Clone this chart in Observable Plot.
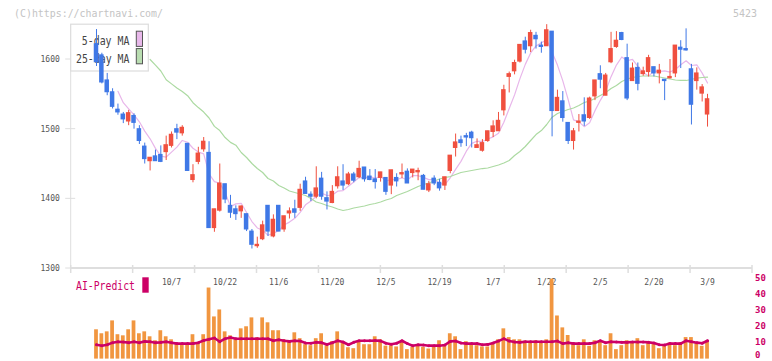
<!DOCTYPE html>
<html>
<head>
<meta charset="utf-8">
<script src="https://cdn.jsdelivr.net/npm/d3@7"></script>
<script src="https://cdn.jsdelivr.net/npm/@observablehq/plot@0.6"></script>
<style>
  html, body { margin: 0; padding: 0; background: #fff; }
  #wrap { position: relative; width: 772px; height: 361px; overflow: hidden; }
  #wrap > svg, #wrap > figure { position: absolute; left: 0; top: 0; margin: 0; }
</style>
</head>
<body>
<div id="wrap"></div>
<script>
// ---- data ----
const opens  = [1622,1606,1570,1553,1528,1521,1511,1519,1500,1475,1454,1461,1463,1467,1476,1500,1494,1479,1427,1453,
                1471,1466,1358,1383,1421,1390,1385,1382,1378,1353,1332,1342,1390,1346,1390,1356,1379,1385,1387,1425,
                1406,1403,1429,1401,1394,1418,1425,1421,1435,1431,1445,1432,1428,1430,1430,1419,1430,1435,1439,1437,
                1438,1433,1412,1429,1423,1419,1440,1473,1484,1490,1495,1473,1469,1483,1496,1497,1527,1575,1583,1597,
                1626,1619,1634,1620,1619,1640,1526,1540,1509,1483,1509,1520,1516,1547,1579,1548,1596,1618,1638,1602,
                1569,1588,1579,1582,1589,1580,1571,1573,1580,1617,1615,1586,1569,1551,1521];
const highs  = [1643,1609,1580,1558,1536,1524,1527,1522,1505,1480,1459,1470,1476,1490,1496,1507,1505,1479,1449,1474,
                1488,1482,1385,1450,1421,1405,1390,1390,1378,1356,1345,1368,1390,1377,1390,1375,1387,1398,1421,1431,
                1410,1446,1438,1410,1419,1446,1449,1438,1438,1454,1445,1442,1442,1438,1430,1441,1436,1450,1443,1442,
                1444,1435,1425,1433,1428,1431,1462,1493,1490,1494,1497,1486,1485,1497,1512,1524,1563,1582,1599,1621,
                1632,1642,1639,1625,1650,1640,1556,1554,1509,1501,1521,1545,1546,1570,1591,1580,1639,1640,1639,1622,
                1595,1595,1589,1606,1589,1593,1571,1600,1620,1627,1644,1593,1588,1564,1550];
const lows   = [1590,1565,1548,1529,1520,1508,1505,1500,1478,1450,1440,1454,1452,1455,1473,1485,1490,1440,1423,1449,
                1467,1358,1352,1381,1393,1372,1369,1372,1353,1328,1329,1340,1346,1344,1353,1352,1371,1372,1382,1407,
                1396,1400,1398,1384,1393,1414,1412,1419,1423,1429,1424,1426,1414,1424,1405,1406,1417,1429,1422,1430,
                1426,1413,1409,1419,1411,1412,1436,1460,1474,1475,1473,1473,1467,1481,1488,1497,1519,1552,1578,1595,
                1608,1610,1615,1609,1619,1489,1526,1510,1478,1470,1496,1504,1514,1541,1558,1548,1594,1616,1627,1541,
                1569,1555,1576,1575,1575,1565,1541,1572,1574,1587,1612,1506,1556,1539,1503];
const closes = [1596,1567,1553,1532,1524,1514,1523,1509,1483,1457,1459,1454,1453,1477,1492,1495,1502,1440,1434,1465,
                1482,1358,1385,1422,1399,1380,1378,1389,1356,1334,1334,1362,1353,1370,1353,1375,1382,1380,1413,1407,
                1403,1415,1403,1396,1410,1431,1419,1435,1426,1443,1428,1427,1424,1438,1410,1441,1425,1437,1422,1442,
                1440,1413,1421,1422,1415,1431,1462,1481,1480,1488,1487,1477,1480,1497,1504,1512,1556,1579,1595,1621,
                1614,1638,1629,1618,1642,1526,1545,1516,1483,1497,1511,1511,1544,1570,1571,1577,1615,1627,1628,1544,
                1587,1565,1583,1602,1580,1584,1569,1575,1620,1614,1613,1535,1580,1560,1543];
const ma25   = [null,null,null,null,null,null,null,null,null,null,
                1600,1592,1583.5,1571,1565,1559,1554,1548,1538,1531,1524.6,1516,1504,1498,1488,1481,1477,1466.5,1459.3,1450.7,
                1443.5,1437.8,1429.2,1425.6,1419.1,1415.5,1411.3,1409.1,1407,1404.8,1400.5,1395.5,1393.3,1390.4,1388.3,1385.4,1383.3,1384.7,1386.8,1388.3,
                1389.7,1391.9,1393.3,1395.5,1398.3,1400.5,1404.8,1407.7,1410.5,1414.1,1417.7,1420.6,1422.7,1425.6,1428.5,1430.6,1432,1434.9,1437.8,1439.2,
                1440.7,1442.1,1443.5,1444.3,1446.4,1448.6,1451.4,1455,1462.2,1468,1475.1,1483.7,1492.3,1498,1506.7,1517.2,1522.5,1525.4,1528.2,1530.4,
                1534,1538.3,1540.5,1544,1548.3,1552.6,1558.4,1562.7,1568.4,1572,1574.2,1575.6,1576.3,1576.3,1576.3,1574.9,1573.4,1572,1570.6,1569.9,
                1569.9,1571.3,1573.4,1574.2,1574.6];
const volumes = [17.7,15.2,16.4,23.3,14.6,13.9,17.7,23.3,15.2,16.4,13.3,10.8,17.1,13.3,11.4,8.9,8.9,8.9,14.6,8.9,
                 14.6,44,25.8,30.2,16.4,13.9,11.4,18.3,19.6,25.2,12.7,25.2,22.1,17.1,17.1,11.4,10.8,15.8,12.1,8.3,
                 7.7,12.1,15.2,7.7,10.2,16.4,10.2,6.4,5.8,10.8,8.3,8.3,13.3,11.4,7.4,7.7,6.9,9.8,5.2,6.7,
                 7.7,6.7,5.6,6.9,10.8,7.7,15.2,13.3,5.2,10.2,8.8,7.7,6.9,6.9,9.0,11.4,18.3,12.8,11.4,11.4,
                 10.6,9.8,10.8,9.4,11.4,49.6,26.4,18.9,14.1,9.4,7.7,11.4,7.3,10.8,10.8,7.7,15.2,5.2,7.7,10.8,
                 9.8,12.1,7.7,9.4,9.4,5.8,8.0,9.4,7.7,9.4,12.8,12.8,9.4,7.3,10.8];
const aiPredict = [8.3,7.7,8.3,9.6,10.2,10.0,9.6,10.2,9.6,10.4,10.2,9.6,9.8,10.2,9.6,9.0,9.0,9.0,9.0,9.6,
                   11.0,11.8,12.5,10.2,12.1,12.8,12.1,12.1,12.1,12.1,12.1,12.1,12.1,10.8,11.4,10.8,10.4,10.8,10.6,9.4,
                   9.2,9.8,9.6,8.5,9.6,10.8,10.0,8.3,9.8,10.8,10.8,10.8,11.0,10.7,9.2,8.6,9.2,10.8,9.0,7.7,
                   8.3,8.1,7.7,7.7,7.7,8.1,10.4,10.6,9.4,9.0,9.0,9.0,8.3,8.5,9.4,10.6,12.1,10.6,10.0,9.8,
                   10.2,10.2,10.2,10.2,10.2,10.2,10.6,9.0,9.6,9.0,9.0,9.0,9.0,9.6,10.8,9.6,10.2,10.0,9.8,9.8,
                   10.0,10.0,10.0,9.8,9.4,8.3,8.1,9.0,9.0,9.0,10.8,10.2,9.6,9.2,10.8];
const dateLabels = ["10/7","10/22","11/6","11/20","12/5","12/19","1/7","1/22","2/5","2/20","3/9"];
const dateLabelIndex = [14,24,34,44,54,64,74,84,94,104,114];
const priceTicks = [1300,1400,1500,1600];
const volumeTicks = [0,10,20,30,40,50];

// ---- table built from the arrays ----
const rows = closes.map((c, i) => ({
  i, open: opens[i], high: highs[i], low: lows[i], close: c,
  ma25: ma25[i], vol: volumes[i], ai: aiPredict[i]
}));
const up = rows.filter(d => d.close >= d.open);
const down = rows.filter(d => d.close < d.open);

const W = 772, H = 361;
const xDomain = [-4.72, 122.39];
const ML = 70.7, MR = 20;
const RED = "#f0503f", BLUE = "#3f78e6";
const wrap = document.getElementById("wrap");

// base layer: axes + moving averages
const base = Plot.plot({
  width: W, height: H,
  marginLeft: ML, marginRight: MR, marginTop: 24.17, marginBottom: 93,
  x: {domain: xDomain, ticks: dateLabelIndex, tickFormat: d => dateLabels[dateLabelIndex.indexOf(d)],
      tickSize: 0, tickPadding: 11, label: null},
  y: {domain: [1300, 1650], ticks: priceTicks, tickFormat: d => String(d), tickSize: 0, tickPadding: 11.4, label: null},
  style: {fontFamily: "'DejaVu Sans Mono', monospace", fontSize: "8px", color: "#555", background: "transparent"},
  marks: [
    Plot.line(rows, Plot.windowY({k: 5, anchor: "end", strict: true}, {x: "i", y: "close", stroke: "#e8b6ea", strokeWidth: 1.2})),
    Plot.line(rows.filter(d => d.ma25 != null), {x: "i", y: "ma25", stroke: "#acdaa2", strokeWidth: 1.2})
  ]
});
wrap.appendChild(base);

// decorations on the base layer derived from its scales
{
  const sx = base.scale("x"), sy = base.scale("y");
  const X = d3.scaleLinear(sx.domain, sx.range);
  const Y = d3.scaleLinear(sy.domain, sy.range);
  const svg = d3.select(base);
  const g = svg.insert("g", ":first-child");
  const x0 = X.range()[0], x1 = X.range()[1];
  const yb = Y(1300), yt = Y(1650);
  g.append("line").attr("x1", x0).attr("x2", x0).attr("y1", yt).attr("y2", yb)
    .attr("stroke", "#dedede").attr("stroke-width", 1);
  g.append("line").attr("x1", x0).attr("x2", x1).attr("y1", yb).attr("y2", yb)
    .attr("stroke", "#dedede").attr("stroke-width", 2);
  for (let k = 0; k <= 11; k++) {
    const xx = x0 + k * (x1 - x0) / 11;
    g.append("line").attr("x1", xx).attr("x2", xx).attr("y1", yb - 3).attr("y2", yb + 5)
      .attr("stroke", "#dedede").attr("stroke-width", 1.5);
  }
  for (const t of priceTicks) {
    g.append("line").attr("x1", x0 - 5.5).attr("x2", x0 + 4.5).attr("y1", Y(t)).attr("y2", Y(t))
      .attr("stroke", "#dedede").attr("stroke-width", 1);
  }
}

// legend layer (covers the moving-average lines, lies under the candles)
{
  const svg = d3.select(wrap).append("svg").attr("width", W).attr("height", H);
  svg.append("rect").attr("x", 70.7).attr("y", 24.2).attr("width", 77.6).attr("height", 46.8)
    .attr("fill", "#fff").attr("stroke", "#dcdcdc").attr("stroke-width", 1.2);
  const lt = [["5-day MA", 45.2, 47.6, "#e8b8ea"], ["25-day MA", 62.6, 53.4, "#b9ddb1"]];
  lt.forEach(([t, y, len, col], k) => {
    svg.append("text").attr("x", 129.4).attr("y", y).attr("text-anchor", "end")
      .attr("font-family", "'DejaVu Sans Mono', monospace").attr("font-size", 12.5)
      .attr("fill", "#444").attr("textLength", len).attr("lengthAdjust", "spacingAndGlyphs").text(t);
    svg.append("rect").attr("x", 136.3).attr("y", k ? 48.6 : 31.2).attr("width", 6.2).attr("height", 15.2)
      .attr("fill", col).attr("stroke", "#555").attr("stroke-width", 1);
  });
}

// candle layer
const candles = Plot.plot({
  width: W, height: H,
  marginLeft: ML, marginRight: MR, marginTop: 24.17, marginBottom: 93,
  x: {domain: xDomain, axis: null},
  y: {domain: [1300, 1650], axis: null},
  style: {background: "transparent"},
  marks: [
    Plot.ruleX(up, {x: "i", y1: "low", y2: "high", stroke: RED, strokeWidth: 1}),
    Plot.ruleX(down, {x: "i", y1: "low", y2: "high", stroke: BLUE, strokeWidth: 1}),
    Plot.rect(up, {x1: d => d.i - 0.42, x2: d => d.i + 0.42, y1: "open", y2: "close", fill: RED, insetTop: -0.5, insetBottom: -0.5}),
    Plot.rect(down, {x1: d => d.i - 0.42, x2: d => d.i + 0.42, y1: "open", y2: "close", fill: BLUE, insetTop: -0.5, insetBottom: -0.5})
  ]
});
wrap.appendChild(candles);

// volume / AI-Predict panel
const lower = Plot.plot({
  width: W, height: H,
  marginLeft: ML, marginRight: MR, marginTop: 278, marginBottom: 3.6,
  x: {domain: xDomain, axis: null},
  y: {domain: [0, 50], axis: "right", ticks: volumeTicks, tickSize: 0, tickPadding: 2.5, label: null},
  style: {fontFamily: "'DejaVu Sans Mono', monospace", fontSize: "9px", fontWeight: "bold", color: "#cc0066", background: "transparent"},
  marks: [
    Plot.rect(rows, {x1: d => d.i - 0.35, x2: d => d.i + 0.35, y1: 0, y2: "vol", fill: "#f19640", insetBottom: -1.2}),
    Plot.line(rows, {x: "i", y: "ai", stroke: "#cc0066", strokeWidth: 2.6}),
    Plot.dot(rows, {x: "i", y: "ai", r: 1.5, fill: "#cc0066"})
  ]
});
wrap.appendChild(lower);
// lift only the bottom "0" label a little so it is not clipped at the picture's lower edge
d3.select(lower).selectAll("text").filter(function () { return this.textContent === "0"; })
  .attr("dy", "0").attr("y", "0.05em");

// texts
{
  const svg = d3.select(wrap).append("svg").attr("width", W).attr("height", H);
  const mono = "'DejaVu Sans Mono', monospace";
  svg.append("text").attr("x", 14).attr("y", 16.6).attr("font-family", mono).attr("font-size", 11)
    .attr("fill", "#c4c4c4").attr("textLength", 149).attr("lengthAdjust", "spacingAndGlyphs")
    .text("(C)https://chartnavi.com/");
  svg.append("text").attr("x", 757).attr("y", 16.6).attr("text-anchor", "end").attr("font-family", mono)
    .attr("font-size", 11).attr("fill", "#c4c4c4").attr("textLength", 24).attr("lengthAdjust", "spacingAndGlyphs")
    .text("5423");
  svg.append("text").attr("x", 76).attr("y", 290.2).attr("font-family", mono).attr("font-size", 11.5)
    .attr("fill", "#cc0066").attr("textLength", 59).attr("lengthAdjust", "spacingAndGlyphs").text("AI-Predict");
  svg.append("rect").attr("x", 142.3).attr("y", 277.3).attr("width", 6.4).attr("height", 15.4).attr("fill", "#cc0066");
}
</script>
</body>
</html>
